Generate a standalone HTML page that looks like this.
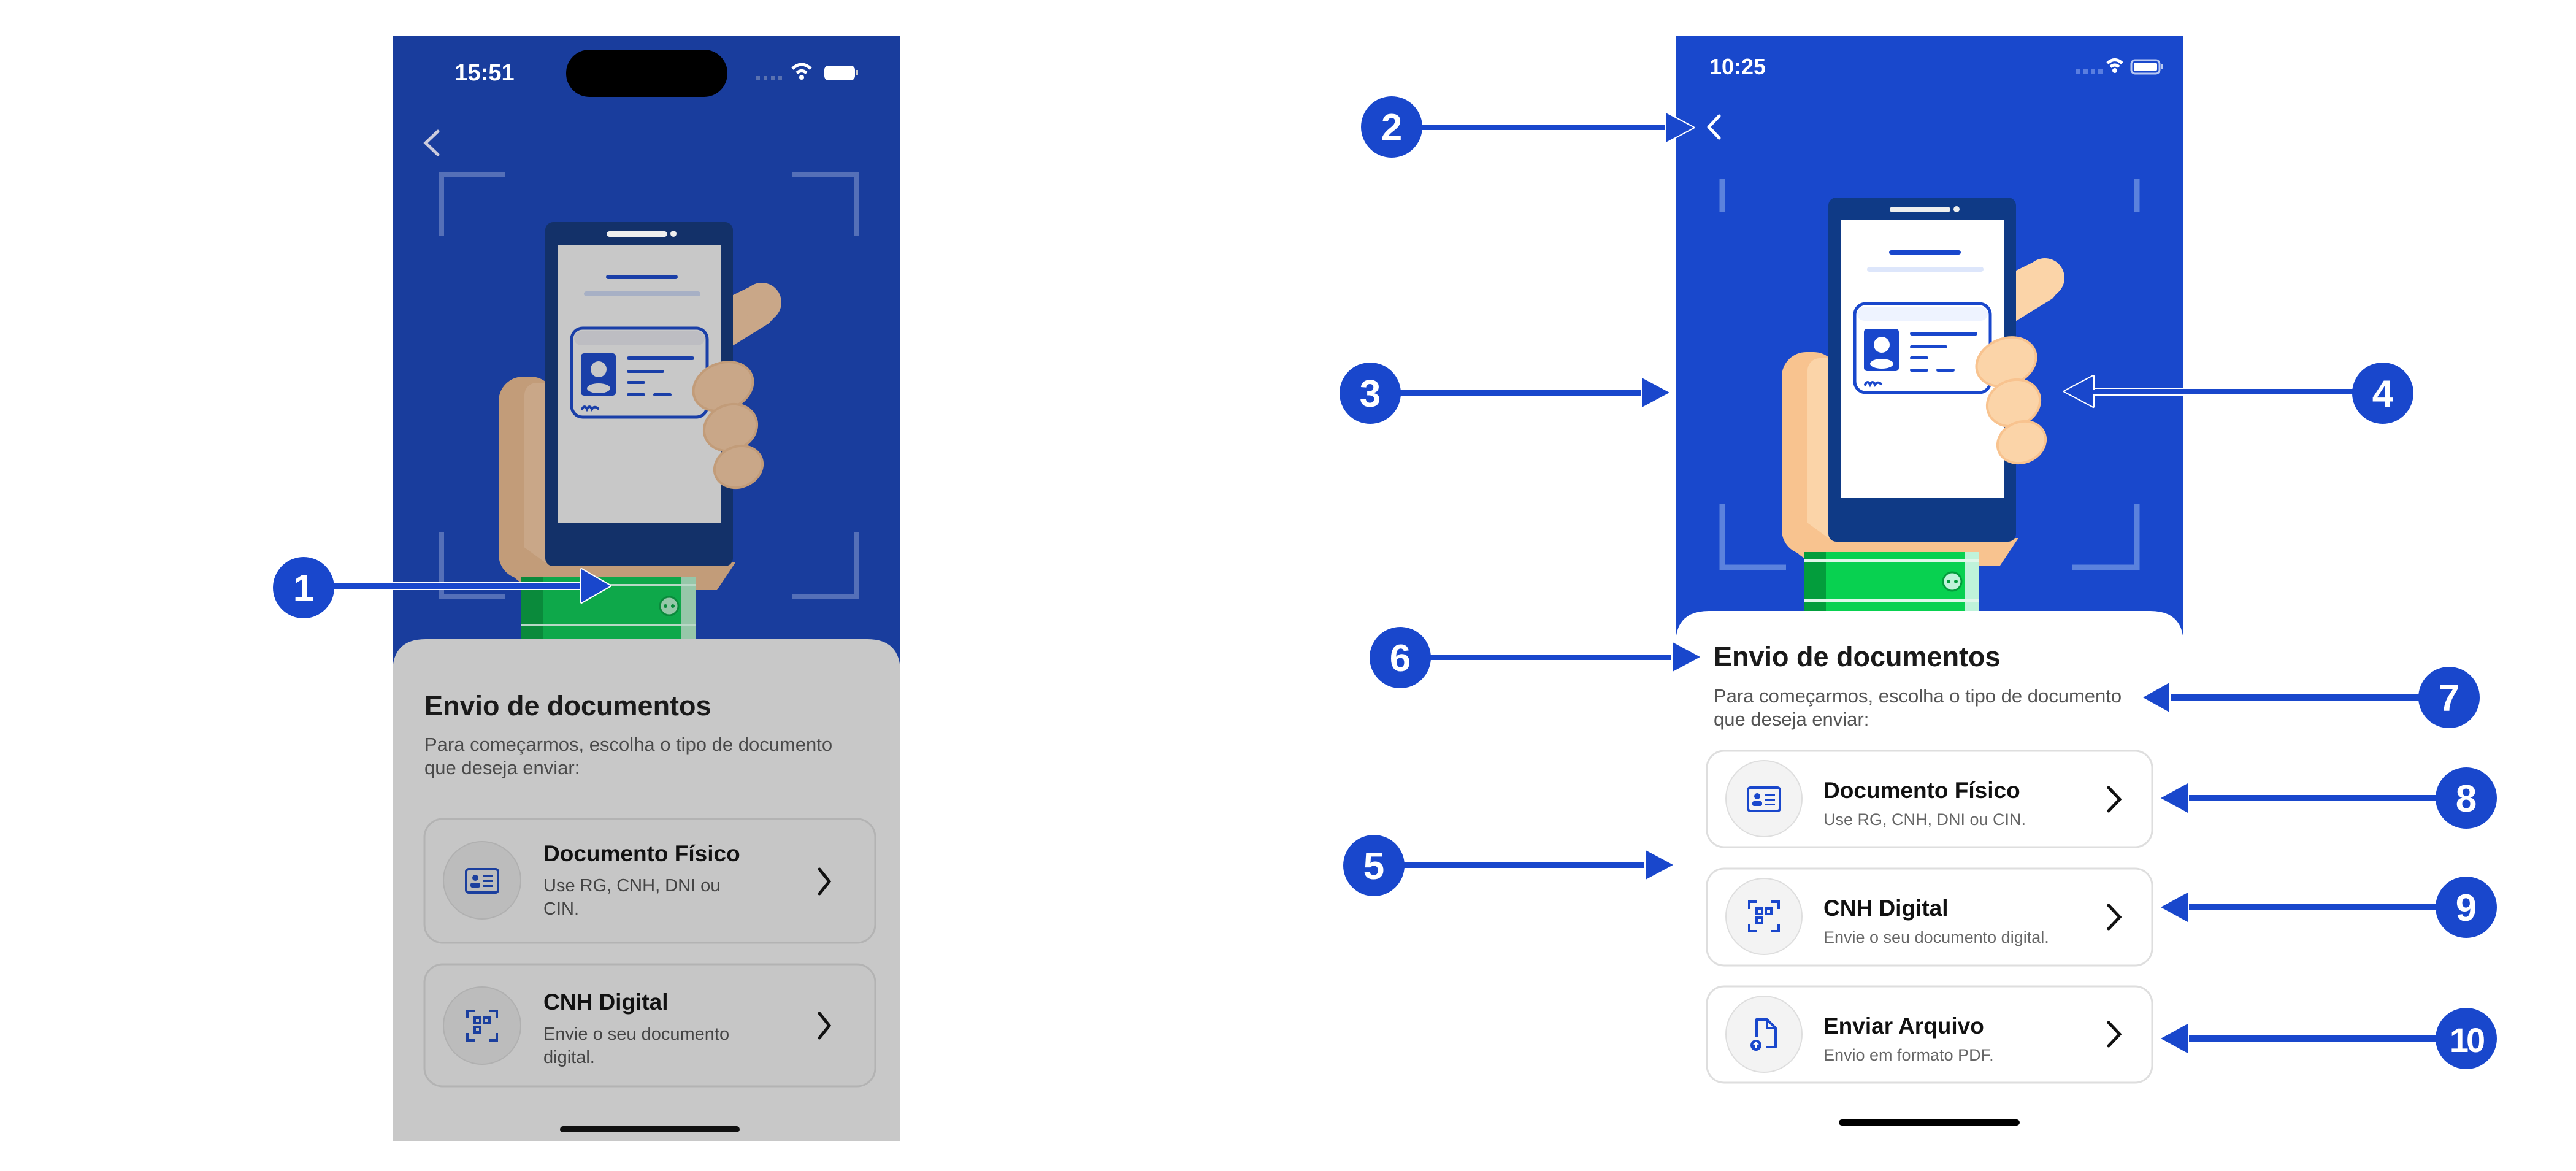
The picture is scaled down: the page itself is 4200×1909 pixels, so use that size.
<!DOCTYPE html>
<html><head><meta charset="utf-8"><style>
html,body{margin:0;padding:0;background:#fff;}
svg{display:block;font-family:"Liberation Sans",sans-serif;}
</style></head><body>
<svg width="4200" height="1909" viewBox="0 0 4200 1909" xmlns="http://www.w3.org/2000/svg">
<defs>
<g id="ill">
  <rect x="-76" y="252" width="92" height="330" rx="40" style="fill:var(--hand2)"/>
  <rect x="-34" y="262" width="50" height="310" rx="20" style="fill:var(--hand)"/>
  <path d="M-76 500 Q-76 600 10 600 L280 600 L310 555 L0 555 Z" style="fill:var(--hand2)"/>
  <rect x="-39" y="578" width="285" height="110" style="fill:var(--green)"/>
  <rect x="-39" y="578" width="35" height="110" style="fill:var(--green2)"/>
  <rect x="222" y="578" width="24" height="110" style="fill:var(--green3)"/>
  <rect x="-39" y="590" width="285" height="4" style="fill:var(--wl)"/>
  <rect x="-39" y="655" width="285" height="4" style="fill:var(--wl)"/>
  <circle cx="202" cy="626" r="15" style="fill:var(--green3);stroke:var(--green2);stroke-width:3"/>
  <circle cx="196" cy="626" r="3" style="fill:var(--green2)"/><circle cx="208" cy="626" r="3" style="fill:var(--green2)"/>
  <path d="M300 122 L345 100 L372 118 L378 150 L365 165 L300 205 Z" style="fill:var(--hand)"/>
  <circle cx="353" cy="131" r="32" style="fill:var(--hand)"/>
  <rect x="0" y="0" width="306" height="561" rx="13" style="fill:var(--body)"/>
  <rect x="21" y="37" width="265" height="453" style="fill:var(--screen)"/>
  <rect x="100" y="15" width="99" height="9" rx="4.5" fill="#eeeeee"/>
  <circle cx="209" cy="19" r="5" fill="#eeeeee"/>
  <rect x="99" y="86" width="117" height="7" rx="3.5" style="fill:var(--blue)"/>
  <rect x="63" y="113" width="190" height="8" rx="4" style="fill:var(--light)"/>
  <rect x="43" y="173" width="221" height="145" rx="18" style="fill:var(--screen);stroke:var(--blue);stroke-width:5"/>
  <rect x="47" y="178" width="213" height="23" rx="12" style="fill:var(--band)"/>
  <rect x="58" y="214" width="57" height="69" rx="5" style="fill:var(--blue)"/>
  <circle cx="87" cy="240" r="13" style="fill:var(--screen)"/>
  <ellipse cx="87" cy="271" rx="19" ry="8" style="fill:var(--screen)"/>
  <rect x="133" y="219" width="110" height="6" rx="3" style="fill:var(--blue)"/>
  <rect x="133" y="241" width="61" height="5" rx="2.5" style="fill:var(--blue)"/>
  <rect x="133" y="259" width="30" height="5" rx="2.5" style="fill:var(--blue)"/>
  <rect x="133" y="279" width="30" height="5" rx="2.5" style="fill:var(--blue)"/>
  <rect x="176" y="279" width="30" height="5" rx="2.5" style="fill:var(--blue)"/>
  <path d="M60 305 q4 -8 8 0 q4 -8 8 0 q4 -6 10 -1" style="fill:none;stroke:var(--blue);stroke-width:4;stroke-linecap:round"/>
  <ellipse cx="290" cy="268" rx="50" ry="38" transform="rotate(-22 290 268)" style="fill:var(--hand);stroke:var(--hand2);stroke-width:4"/>
  <ellipse cx="302" cy="335" rx="44" ry="37" transform="rotate(-22 302 335)" style="fill:var(--hand);stroke:var(--hand2);stroke-width:4"/>
  <ellipse cx="315" cy="399" rx="40" ry="33" transform="rotate(-22 315 399)" style="fill:var(--hand);stroke:var(--hand2);stroke-width:4"/>
</g>
</defs>

<!-- LEFT PHONE -->
<rect x="640" y="59" width="828" height="1060" fill="#193d9d"/>
<g fill="none" stroke="#5570b8" stroke-width="8">
  <path d="M824 284 H720 V385"/><path d="M1292 284 H1396 V385"/>
  <path d="M720 867 V972 H824"/><path d="M1396 867 V972 H1292"/>
</g>
<text x="790" y="131" font-size="38" font-weight="bold" fill="#fff" text-anchor="middle">15:51</text>
<rect x="923" y="81" width="263" height="77" rx="38" fill="#000"/>
<g fill="#5a72b0"><rect x="1233" y="124" width="6" height="6"/><rect x="1245" y="124" width="6" height="6"/><rect x="1257" y="124" width="6" height="6"/><rect x="1269" y="124" width="6" height="6"/></g>
<path d="M1292 112 Q1307 98 1322 112" stroke="#fff" stroke-width="5" fill="none"/><path d="M1299 119 Q1307 112 1315 119" stroke="#fff" stroke-width="5" fill="none"/><circle cx="1307" cy="126" r="4" fill="#fff"/>
<rect x="1344" y="107" width="50" height="24" rx="7" fill="#fff"/><rect x="1396" y="114" width="3" height="9" fill="#ccc"/>
<path d="M714 214 L694 233 L714 252" stroke="#ccd" stroke-width="5" fill="none" stroke-linecap="round"/>
<g transform="translate(889 362)" style="--hand:#c9a788;--hand2:#c29c79;--body:#133169;--screen:#c8c8c8;--blue:#1a3fa8;--light:#a7b0c5;--band:#bdbdc2;--green:#0ea84a;--green2:#0a8a3b;--green3:#96c7a9;--wl:#b8d8c6">
  <use href="#ill"/>
</g>
<path d="M640 1096 Q640 1042 694 1042 L1414 1042 Q1468 1042 1468 1096 L1468 1860 L640 1860 Z" fill="#c8c8c8"/>
<text x="692" y="1166" font-size="45" font-weight="bold" fill="#1a1a1a">Envio de documentos</text>
<text x="692" y="1224" font-size="31" fill="#4a4a4a">Para começarmos, escolha o tipo de documento</text>
<text x="692" y="1262" font-size="31" fill="#4a4a4a">que deseja enviar:</text>
<rect x="692" y="1335" width="735" height="202" rx="30" fill="#c6c6c6" stroke="#b3b3b3" stroke-width="3"/>
<circle cx="786" cy="1435" r="63" fill="#bcbcbc" stroke="#b0b0b0" stroke-width="2"/>
<rect x="760" y="1417" width="52" height="38" rx="4" fill="none" stroke="#1b3f9e" stroke-width="4"/>
<circle cx="775" cy="1431" r="5" fill="#1b3f9e"/><rect x="767" y="1439" width="16" height="8" rx="3" fill="#1b3f9e"/>
<g fill="#1b3f9e"><rect x="788" y="1427" width="16" height="3"/><rect x="788" y="1435" width="16" height="3"/><rect x="788" y="1443" width="16" height="3"/></g>
<text x="886" y="1404" font-size="37" font-weight="bold" fill="#111">Documento Físico</text>
<text x="886" y="1453" font-size="29" fill="#444">Use RG, CNH, DNI ou</text>
<text x="886" y="1491" font-size="29" fill="#444">CIN.</text>
<path d="M1336 1417 L1352 1437 L1336 1457" stroke="#111" stroke-width="5" fill="none" stroke-linecap="round"/>
<rect x="692" y="1572" width="735" height="199" rx="30" fill="#c6c6c6" stroke="#b3b3b3" stroke-width="3"/>
<circle cx="786" cy="1672" r="63" fill="#bcbcbc" stroke="#b0b0b0" stroke-width="2"/>
<g fill="none" stroke="#1b3f9e" stroke-width="4"><path d="M762 1660 V1648 H774"/><path d="M798 1648 H810 V1660"/><path d="M762 1684 V1696 H774"/><path d="M798 1696 H810 V1684"/><rect x="774" y="1659" width="9" height="9"/><rect x="789" y="1659" width="9" height="9"/><rect x="774" y="1674" width="9" height="9"/></g>
<text x="886" y="1646" font-size="37" font-weight="bold" fill="#111">CNH Digital</text>
<text x="886" y="1695" font-size="29" fill="#444">Envie o seu documento</text>
<text x="886" y="1733" font-size="29" fill="#444">digital.</text>
<path d="M1336 1652 L1352 1672 L1336 1692" stroke="#111" stroke-width="5" fill="none" stroke-linecap="round"/>
<rect x="913" y="1836" width="293" height="10" rx="5" fill="#111"/>

<!-- RIGHT PHONE -->
<rect x="2732" y="59" width="828" height="1000" fill="#1948cc"/>
<g fill="none" stroke="#5b82dd" stroke-width="9">
  <path d="M2808 291 V346"/><path d="M3484 291 V346"/>
  <path d="M2808 821 V925 H2912"/><path d="M3484 821 V925 H3379"/>
</g>
<text x="2833" y="121" font-size="36" font-weight="bold" fill="#fff" text-anchor="middle">10:25</text>
<g fill="#5a7ee0"><rect x="3385" y="113" width="7" height="7"/><rect x="3397" y="113" width="7" height="7"/><rect x="3409" y="113" width="7" height="7"/><rect x="3421" y="113" width="7" height="7"/></g>
<path d="M3436 103 Q3448 92 3460 103" stroke="#fff" stroke-width="5" fill="none"/><path d="M3441 109 Q3448 103 3455 109" stroke="#fff" stroke-width="5" fill="none"/><circle cx="3448" cy="115" r="4" fill="#fff"/>
<rect x="3475" y="98" width="46" height="22" rx="6" fill="none" stroke="#b9c9f2" stroke-width="3"/><rect x="3479" y="102" width="38" height="14" rx="3" fill="#fff"/><rect x="3523" y="105" width="3" height="8" fill="#b9c9f2"/>
<path d="M2803 189 L2786 207 L2803 225" stroke="#fff" stroke-width="5" fill="none" stroke-linecap="round" stroke-linejoin="round"/>
<g transform="translate(2981 322)" style="--hand:#fbd4a8;--hand2:#f8c38f;--body:#0f3a86;--screen:#ffffff;--blue:#1947cc;--light:#dde6fb;--band:#eef3ff;--green:#08d150;--green2:#039d3c;--green3:#bff3da;--wl:#e0f7ea">
  <use href="#ill"/>
</g>
<path d="M2732 1050 Q2732 996 2786 996 L3506 996 Q3560 996 3560 1050 L3560 1909 L2732 1909 Z" fill="#fff"/>
<text x="2794" y="1086" font-size="45" font-weight="bold" fill="#1a1a1a">Envio de documentos</text>
<text x="2794" y="1145" font-size="31" fill="#555">Para começarmos, escolha o tipo de documento</text>
<text x="2794" y="1183" font-size="31" fill="#555">que deseja enviar:</text>

<g>
<rect x="2783" y="1224" width="726" height="157" rx="28" fill="#fff" stroke="#dedede" stroke-width="3"/>
<circle cx="2876" cy="1302" r="62" fill="#f3f3f3" stroke="#dedede" stroke-width="2"/>
<rect x="2850" y="1284" width="52" height="38" rx="4" fill="none" stroke="#1947cc" stroke-width="4"/>
<circle cx="2865" cy="1298" r="5" fill="#1947cc"/><rect x="2857" y="1306" width="16" height="8" rx="3" fill="#1947cc"/>
<g fill="#1947cc"><rect x="2878" y="1294" width="16" height="3"/><rect x="2878" y="1302" width="16" height="3"/><rect x="2878" y="1310" width="16" height="3"/></g>
<text x="2973" y="1301" font-size="37" font-weight="bold" fill="#111">Documento Físico</text>
<text x="2973" y="1345" font-size="27" fill="#666">Use RG, CNH, DNI ou CIN.</text>
<path d="M3438 1284 L3456 1303 L3438 1322" stroke="#111" stroke-width="5" fill="none" stroke-linecap="round"/>
</g>
<g>
<rect x="2783" y="1416" width="726" height="158" rx="28" fill="#fff" stroke="#dedede" stroke-width="3"/>
<circle cx="2876" cy="1494" r="62" fill="#f3f3f3" stroke="#dedede" stroke-width="2"/>
<g fill="none" stroke="#1947cc" stroke-width="4"><path d="M2852 1482 V1470 H2864"/><path d="M2888 1470 H2900 V1482"/><path d="M2852 1506 V1518 H2864"/><path d="M2888 1518 H2900 V1506"/><rect x="2864" y="1481" width="9" height="9"/><rect x="2879" y="1481" width="9" height="9"/><rect x="2864" y="1496" width="9" height="9"/></g>
<text x="2973" y="1493" font-size="37" font-weight="bold" fill="#111">CNH Digital</text>
<text x="2973" y="1537" font-size="27" fill="#666">Envie o seu documento digital.</text>
<path d="M3438 1476 L3456 1495 L3438 1514" stroke="#111" stroke-width="5" fill="none" stroke-linecap="round"/>
</g>
<g>
<rect x="2783" y="1608" width="726" height="157" rx="28" fill="#fff" stroke="#dedede" stroke-width="3"/>
<circle cx="2876" cy="1686" r="62" fill="#f3f3f3" stroke="#dedede" stroke-width="2"/>
<path d="M2864 1690 V1662 H2881 L2895 1676 V1707 H2880" fill="none" stroke="#1947cc" stroke-width="4" stroke-linejoin="round"/>
<path d="M2881 1662 V1676 H2895" fill="none" stroke="#1947cc" stroke-width="3"/>
<circle cx="2863" cy="1704" r="9" fill="#1947cc"/><path d="M2863 1709 V1699 M2859 1703 L2863 1699 L2867 1703" stroke="#fff" stroke-width="2" fill="none"/>
<text x="2973" y="1685" font-size="37" font-weight="bold" fill="#111">Enviar Arquivo</text>
<text x="2973" y="1729" font-size="27" fill="#666">Envio em formato PDF.</text>
<path d="M3438 1667 L3456 1686 L3438 1705" stroke="#111" stroke-width="5" fill="none" stroke-linecap="round"/>
</g>
<rect x="2998" y="1825" width="295" height="10" rx="5" fill="#000"/>

<!-- ANNOTATIONS -->
<g fill="#1947cc" stroke="#fff" stroke-width="4" stroke-linejoin="round" paint-order="stroke">
  <rect x="495" y="950" width="460" height="10"/>
  <path d="M948 928 L995 955 L948 982 Z"/>
  <rect x="2269" y="203" width="460" height="9"/>
  <path d="M2716 184 L2761 208 L2716 232 Z"/>
  <rect x="2234" y="636" width="450" height="9"/>
  <path d="M2677 616 L2722 640 L2677 664 Z"/>
  <rect x="3400" y="634" width="485" height="9"/>
  <path d="M3413 613 L3366 638 L3413 663 Z"/>
  <rect x="2240" y="1406" width="450" height="9"/>
  <path d="M2683 1386 L2728 1410 L2683 1434 Z"/>
  <rect x="2283" y="1067" width="450" height="9"/>
  <path d="M2727 1047 L2772 1071 L2727 1095 Z"/>
  <rect x="3530" y="1132" width="463" height="10"/>
  <path d="M3537 1113 L3494 1137 L3537 1161 Z"/>
  <rect x="3560" y="1296" width="461" height="10"/>
  <path d="M3567 1277 L3523 1301 L3567 1325 Z"/>
  <rect x="3560" y="1474" width="461" height="10"/>
  <path d="M3567 1455 L3523 1479 L3567 1503 Z"/>
  <rect x="3560" y="1688" width="461" height="10"/>
  <path d="M3567 1669 L3523 1693 L3567 1717 Z"/>
</g>
<rect x="3413" y="635" width="147" height="7" fill="#1947cc"/>
<g fill="#1947cc">
  <circle cx="495" cy="958" r="50"/>
  <circle cx="2269" cy="207" r="50"/>
  <circle cx="2234" cy="641" r="50"/>
  <circle cx="3885" cy="641" r="50"/>
  <circle cx="2240" cy="1411" r="50"/>
  <circle cx="2283" cy="1072" r="50"/>
  <circle cx="3993" cy="1137" r="50"/>
  <circle cx="4021" cy="1301" r="50"/>
  <circle cx="4021" cy="1479" r="50"/>
  <circle cx="4021" cy="1693" r="50"/>
</g>
<g fill="#fff" font-size="62" font-weight="bold" text-anchor="middle">
  <text x="495" y="980">1</text>
  <text x="2269" y="229">2</text>
  <text x="2234" y="663">3</text>
  <text x="3885" y="663">4</text>
  <text x="2240" y="1433">5</text>
  <text x="2283" y="1094">6</text>
  <text x="3993" y="1159">7</text>
  <text x="4021" y="1323">8</text>
  <text x="4021" y="1501">9</text>
  <text x="4021" y="1715" font-size="56" letter-spacing="-4">10</text>
</g>
</svg>
</body></html>
